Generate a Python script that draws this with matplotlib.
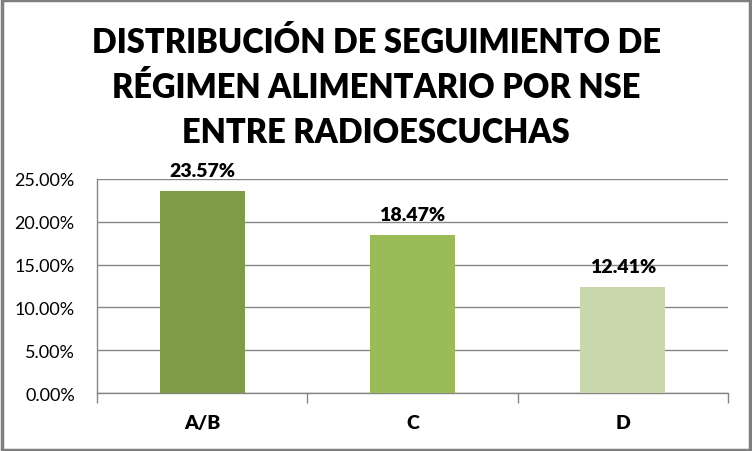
import matplotlib.pyplot as plt
from matplotlib.patches import Rectangle
from matplotlib.ticker import FuncFormatter

# data
categories = ['A/B', 'C', 'D']
values = [0.2357, 0.1847, 0.1241]
value_labels = ['23.57%', '18.47%', '12.41%']
bar_colors = ['#7F9B4A', '#9BBB59', '#C8D7AC']
yticks = [0.0, 0.05, 0.10, 0.15, 0.20, 0.25]

plt.rcParams['font.family'] = ['Lato', 'DejaVu Sans']

fig = plt.figure(figsize=(7.52, 4.52), dpi=100)
ax = fig.add_axes([0.129, 0.128, 0.839, 0.474])

x = range(len(categories))
ax.bar(x, values, width=0.405, color=bar_colors, zorder=3)
for xi, v, lab in zip(x, values, value_labels):
    ax.text(xi, v + 0.014, lab, ha='center', va='bottom', fontsize=14,
            fontweight='heavy', color='black')

ax.set_xlim(-0.5, 2.5)
ax.set_ylim(0, 0.25)
ax.set_yticks(yticks)
ax.yaxis.set_major_formatter(FuncFormatter(lambda v, p: f'{v * 100:.2f}%'))
ax.tick_params(axis='y', length=0, labelsize=13, pad=16)
ax.yaxis.grid(True, color='#868686', linewidth=1, zorder=0)

ax.set_xticks(list(x))
ax.set_xticklabels(categories, fontsize=14, fontweight='heavy')
ax.tick_params(axis='x', which='major', length=0, pad=15)
ax.set_xticks([-0.5, 0.5, 1.5, 2.5], minor=True)
ax.tick_params(axis='x', which='minor', length=7, color='#868686', width=1)

for side in ['top', 'right']:
    ax.spines[side].set_visible(False)
for side in ['left', 'bottom']:
    ax.spines[side].set_color('#868686')
    ax.spines[side].set_linewidth(1)

fig.text(0.5, 0.94, 'DISTRIBUCIÓN DE SEGUIMIENTO DE\nRÉGIMEN ALIMENTARIO POR NSE\nENTRE RADIOESCUCHAS',
         ha='center', va='top', fontsize=23.5, fontweight='heavy', linespacing=1.5)

fig.patches.append(Rectangle((0.002, 0.003), 0.995, 0.994, transform=fig.transFigure,
                             fill=False, edgecolor='#7F7F7F', linewidth=2.5))

fig.savefig('out.png', dpi=100)
